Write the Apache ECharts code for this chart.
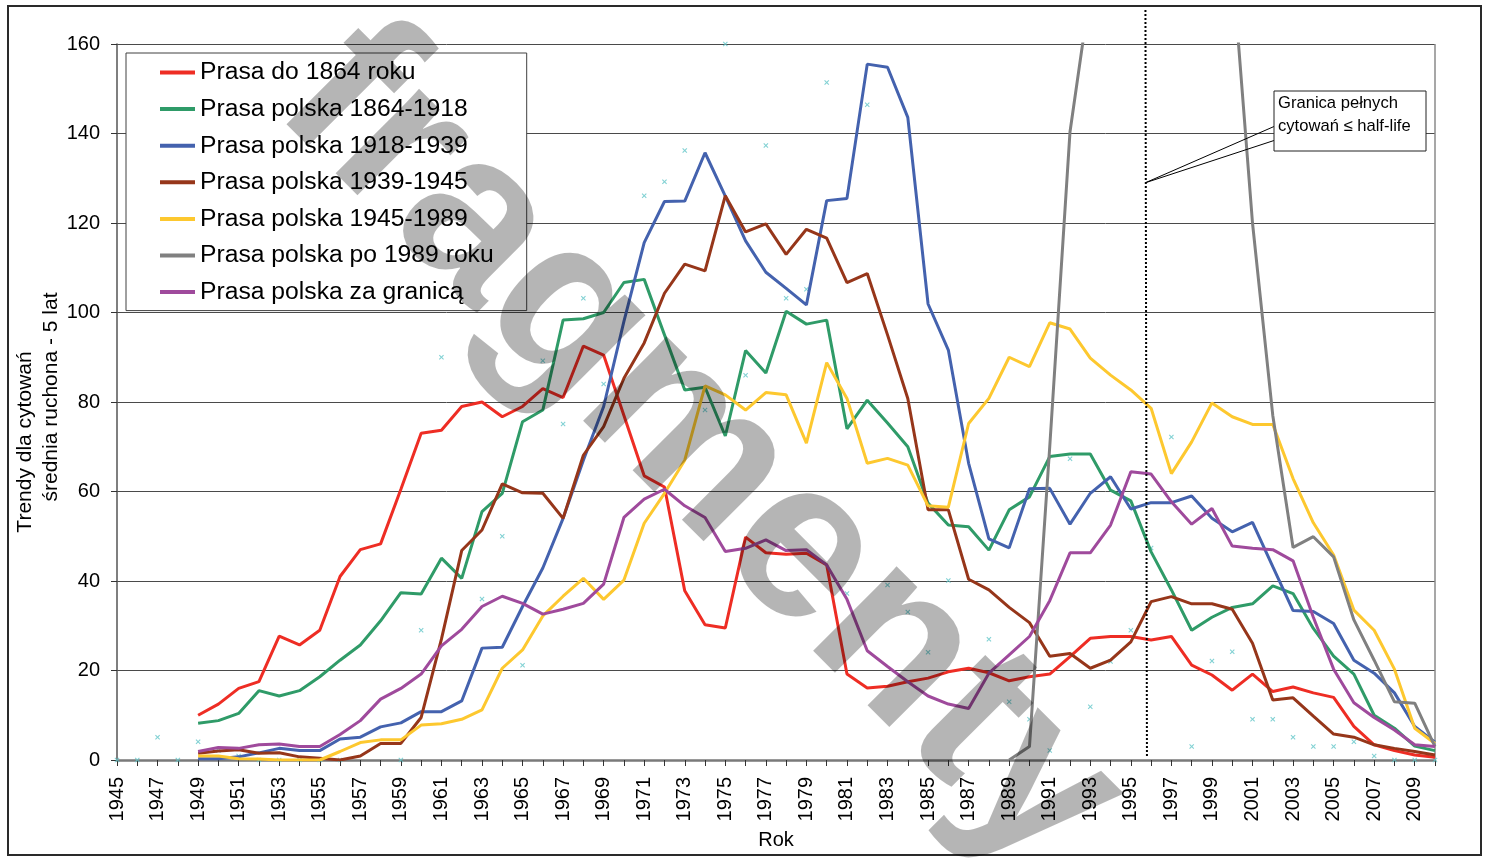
<!DOCTYPE html>
<html>
<head>
<meta charset="utf-8">
<script src="https://cdn.jsdelivr.net/npm/echarts@6/dist/echarts.min.js"></script>
<style>
html,body{margin:0;padding:0;background:#fff;}
#chart{width:1485px;height:860px;}
</style>
</head>
<body>
<div id="chart"></div>
<script>
const years = ['1945','1946','1947','1948','1949','1950','1951','1952','1953','1954','1955','1956','1957','1958','1959','1960','1961','1962','1963','1964','1965','1966','1967','1968','1969','1970','1971','1972','1973','1974','1975','1976','1977','1978','1979','1980','1981','1982','1983','1984','1985','1986','1987','1988','1989','1990','1991','1992','1993','1994','1995','1996','1997','1998','1999','2000','2001','2002','2003','2004','2005','2006','2007','2008','2009','2010'];

const seriesNames = ['Prasa do 1864 roku','Prasa polska 1864-1918','Prasa polska 1918-1939','Prasa polska 1939-1945','Prasa polska 1945-1989','Prasa polska po 1989 roku','Prasa polska za granicą'];

const prasaDo1864 = [null,null,null,null,10,12.5,16,17.5,27.7,25.7,29,41,47,48.3,60.5,73,73.7,79,80,76.7,79,83,81,92.5,90.5,77,63.5,61,37.8,30.2,29.5,49.8,46.3,46,46.2,43.6,19.2,16.1,16.5,17.5,18.3,19.7,20.5,19.5,17.7,18.6,19.2,23.1,27.2,27.6,27.6,26.8,27.6,21.2,19,15.6,19.2,15.3,16.3,15,14,7.5,3.4,2.1,1.1,0.6];
const prasa1864_1918 = [null,null,null,null,8.2,8.8,10.4,15.5,14.3,15.5,18.6,22.3,25.7,31.1,37.4,37.1,45.1,40.6,55.5,59.6,75.6,78.2,98.3,98.6,100,106.7,107.4,95,82.7,83.3,72.4,91.5,86.5,100.3,97.4,98.3,74,80.4,75.3,70,57.4,52.5,52.1,46.9,55.9,58.8,67.8,68.4,68.4,60.3,57.9,46.5,38,29,31.9,34.1,34.9,38.9,37.2,29.4,23.2,19.2,10,7.1,3.1,2.1];
const prasa1918_1939 = [null,null,null,null,0.3,0.3,0.7,1.6,2.6,2.1,2.1,4.7,5.1,7.4,8.3,10.8,10.8,13.2,25,25.2,34.3,42.9,54,67,79,98,115.6,124.8,124.9,135.7,126,116,109,105.4,101.7,125,125.5,155.5,154.8,143.6,101.9,91.6,66.3,49.4,47.4,60.6,60.7,52.7,59.6,63.3,56.1,57.5,57.5,59,54,51,53.1,43.2,33.4,33.2,30.5,22.3,19.4,15,7.5,4];
const prasa1939_1945 = [null,null,null,null,1.5,2,2.3,1.5,1.6,0.7,0.4,0,0.9,3.7,3.7,9.5,27,46.8,51.4,61.7,59.7,59.6,54,68.1,74.5,85.3,93.2,104.3,110.8,109.3,126.1,118,119.8,113,118.6,116.6,106.7,108.7,95,80.8,55.9,55.9,40.4,38,34.1,30.7,23.2,23.8,20.5,22.3,26.4,35.4,36.5,34.9,34.9,33.7,26.1,13.4,13.9,9.8,5.8,5.1,3.4,2.6,1.9,1.1];
const prasa1945_1989 = [null,null,null,null,0.9,0.9,0.3,0.2,0,0,0,1.9,3.9,4.5,4.5,7.8,8.1,9.1,11.2,20.5,24.6,32.2,36.6,40.6,35.9,40.2,52.9,59.6,67,83.6,81.6,78.2,82.1,81.6,70.8,88.8,80.8,66.3,67.4,65.9,56.8,56.5,75.2,80.8,90,87.9,97.7,96.3,89.8,86,82.7,78.6,64,71.1,79.8,76.7,75,75,62.9,53,45.8,33.5,29,20.3,7.1,3.7];
const prasaPo1989 = [null,null,null,null,null,null,null,null,null,null,null,null,null,null,null,null,null,null,null,null,null,null,null,null,null,null,null,null,null,null,null,null,null,null,null,null,null,null,null,null,null,null,null,null,0,3,70,140.4,172,205,230,245,240,225,205,178,120,77,47.5,49.9,45.4,31.3,22.3,13,12.7,3];
const prasaZaGranica = [null,null,null,null,1.9,2.8,2.6,3.4,3.6,3,3,5.7,8.8,13.6,16,19.2,25.5,29.2,34.3,36.6,35,32.6,33.7,35,39.3,54.2,58.3,60.5,56.8,54.2,46.6,47.3,49.2,46.8,47,43.6,35.9,24.4,20.9,17.5,14.3,12.5,11.5,19.4,23.5,27.6,35.6,46.3,46.3,52.5,64.4,63.9,57.7,52.7,56.2,47.8,47.3,47,44.5,31.9,20.3,12.8,9.5,6.7,3.4,3];
const rocznePunkty = [0,0,5.1,0,4.1,2.1,0.9,0,0,0,0,0,null,null,0,29,90,null,36,50,21.2,89.2,75.1,103.2,84,null,126.1,129.2,136.2,78.2,160,86,137.3,103.2,105.2,151.4,37.2,146.4,39.1,33.1,24.1,40.1,null,27,13,9.1,2.1,67.3,11.9,22,29,47.4,72.2,3,22.1,24.2,9.1,9.1,5.1,3,3,4.1,0.9,0,0,0];

const yTicks = [0,20,40,60,80,100,120,140,160];
const colors = ['#ee2d24','#2f9b68','#4462ae','#96361a','#fdc82f','#808080','#9f4a9c'];
const seriesData = [prasaDo1864,prasa1864_1918,prasa1918_1939,prasa1939_1945,prasa1945_1989,prasaPo1989,prasaZaGranica];

const FONT = '"Liberation Sans", Arial, sans-serif';
const chart = echarts.init(document.getElementById('chart'), null, {renderer:'canvas'});

const lineSeries = seriesNames.map((n,i)=>({
  name:n, type:'line', data:seriesData[i], symbol:'none', smooth:false,
  lineStyle:{width:3,color:colors[i]}, itemStyle:{color:colors[i]},
  connectNulls:false, clip:true, z:3, animation:false
}));

const xPath = 'path://M0,1.5L1.5,0L5,3.5L8.5,0L10,1.5L6.5,5L10,8.5L8.5,10L5,6.5L1.5,10L0,8.5L3.5,5Z';

chart.setOption({
  animation:false,
  backgroundColor:'#fff',
  textStyle:{fontFamily:FONT},
  grid:{left:117, right:50, top:44, bottom:100, containLabel:false, outerBoundsMode:'none'},
  legend:{
    data:seriesNames, orient:'vertical', left:126, top:53,
    padding:[7,33,6,34], itemGap:11.6, itemWidth:35, itemHeight:4, icon:'rect',
    backgroundColor:'#fff', borderColor:'#404040', borderWidth:1,
    textStyle:{fontSize:24.7, color:'#000', fontFamily:FONT, lineHeight:24},
    selectedMode:false, z:5
  },
  xAxis:{
    type:'category', data:years, boundaryGap:false,
    name:'Rok', nameLocation:'middle', nameGap:70,
    nameTextStyle:{fontSize:20, color:'#000', fontFamily:FONT},
    axisLine:{lineStyle:{color:'#7a7a7a', width:2.5}},
    axisTick:{show:true, interval:0, length:6, lineStyle:{color:'#333', width:1}},
    axisLabel:{interval:1, rotate:90, fontSize:20, color:'#000', margin:17, fontFamily:FONT},
    splitLine:{show:false}
  },
  yAxis:{
    type:'value', min:yTicks[0], max:yTicks[yTicks.length-1], interval:20,
    axisLine:{show:true, lineStyle:{color:'#555', width:1.5}},
    axisTick:{show:true, length:6, lineStyle:{color:'#333'}},
    axisLabel:{fontSize:20, color:'#000', margin:17, fontFamily:FONT},
    splitLine:{show:true, lineStyle:{color:'#4a4a4a', width:1}}
  },
  series:[
    {name:'punkty', type:'scatter', data:rocznePunkty, symbol:xPath, symbolSize:5,
     itemStyle:{color:'#62c6c8'}, z:2, silent:true, clip:false}
  ].concat(lineSeries)
});

function px(year){ return chart.convertToPixel({xAxisIndex:0}, year); }
function py(v){ return chart.convertToPixel({yAxisIndex:0}, v); }

const x1995 = px('1995'), x1996 = px('1996');
const xDot = x1995 + 0.72*(x1996 - x1995);
const yTop = py(160), yZero = py(0), xRight = px('2010');
const tipY = py(129);

chart.setOption({
  graphic:[
    {type:'line', shape:{x1:xRight, y1:yTop, x2:xRight, y2:yZero}, style:{stroke:'#8a8a8a', lineWidth:1.5}, z:1},
    {type:'rect', shape:{x:8, y:6, width:1473, height:849}, style:{fill:null, stroke:'#2a2a2a', lineWidth:2}, z:1},
    {type:'line', shape:{x1:xDot, y1:10, x2:xDot+1.5, y2:yZero-4}, style:{stroke:'#000', lineWidth:2, lineDash:[2,2]}, z:20},
    {type:'polyline', shape:{points:[[1274,126.5],[xDot,tipY],[1274,140.5]]}, style:{stroke:'#000', lineWidth:1, fill:null}, z:21},
    {type:'rect', shape:{x:1274, y:91, width:152, height:60}, style:{fill:'#fff', stroke:'#222', lineWidth:1}, z:21},
    {type:'text', x:1278, y:103, style:{text:'Granica pełnych', font:'16.6px '+FONT, fill:'#000', textVerticalAlign:'middle', verticalAlign:'middle'}, z:22},
    {type:'text', x:1278, y:126, style:{text:'cytowań ≤ half-life', font:'16.6px '+FONT, fill:'#000', textVerticalAlign:'middle', verticalAlign:'middle'}, z:22},
    {type:'text', x:25, y:442, rotation:Math.PI/2, style:{text:'Trendy dla cytowań', font:'21px '+FONT, fill:'#000', textAlign:'center', align:'center', textVerticalAlign:'middle', verticalAlign:'middle'}, z:10},
    {type:'text', x:51.5, y:397, rotation:Math.PI/2, style:{text:'średnia ruchona - 5 lat', font:'21px '+FONT, fill:'#000', textAlign:'center', align:'center', textVerticalAlign:'middle', verticalAlign:'middle'}, z:10},
    {type:'text', x:700, y:450, rotation:-45*Math.PI/180, style:{text:'fragmenty', font:'bold 225px '+FONT, fill:'rgba(0,0,0,0.29)', textAlign:'center', align:'center', textVerticalAlign:'middle', verticalAlign:'middle'}, z:100}
  ]
});
</script>
</body>
</html>
